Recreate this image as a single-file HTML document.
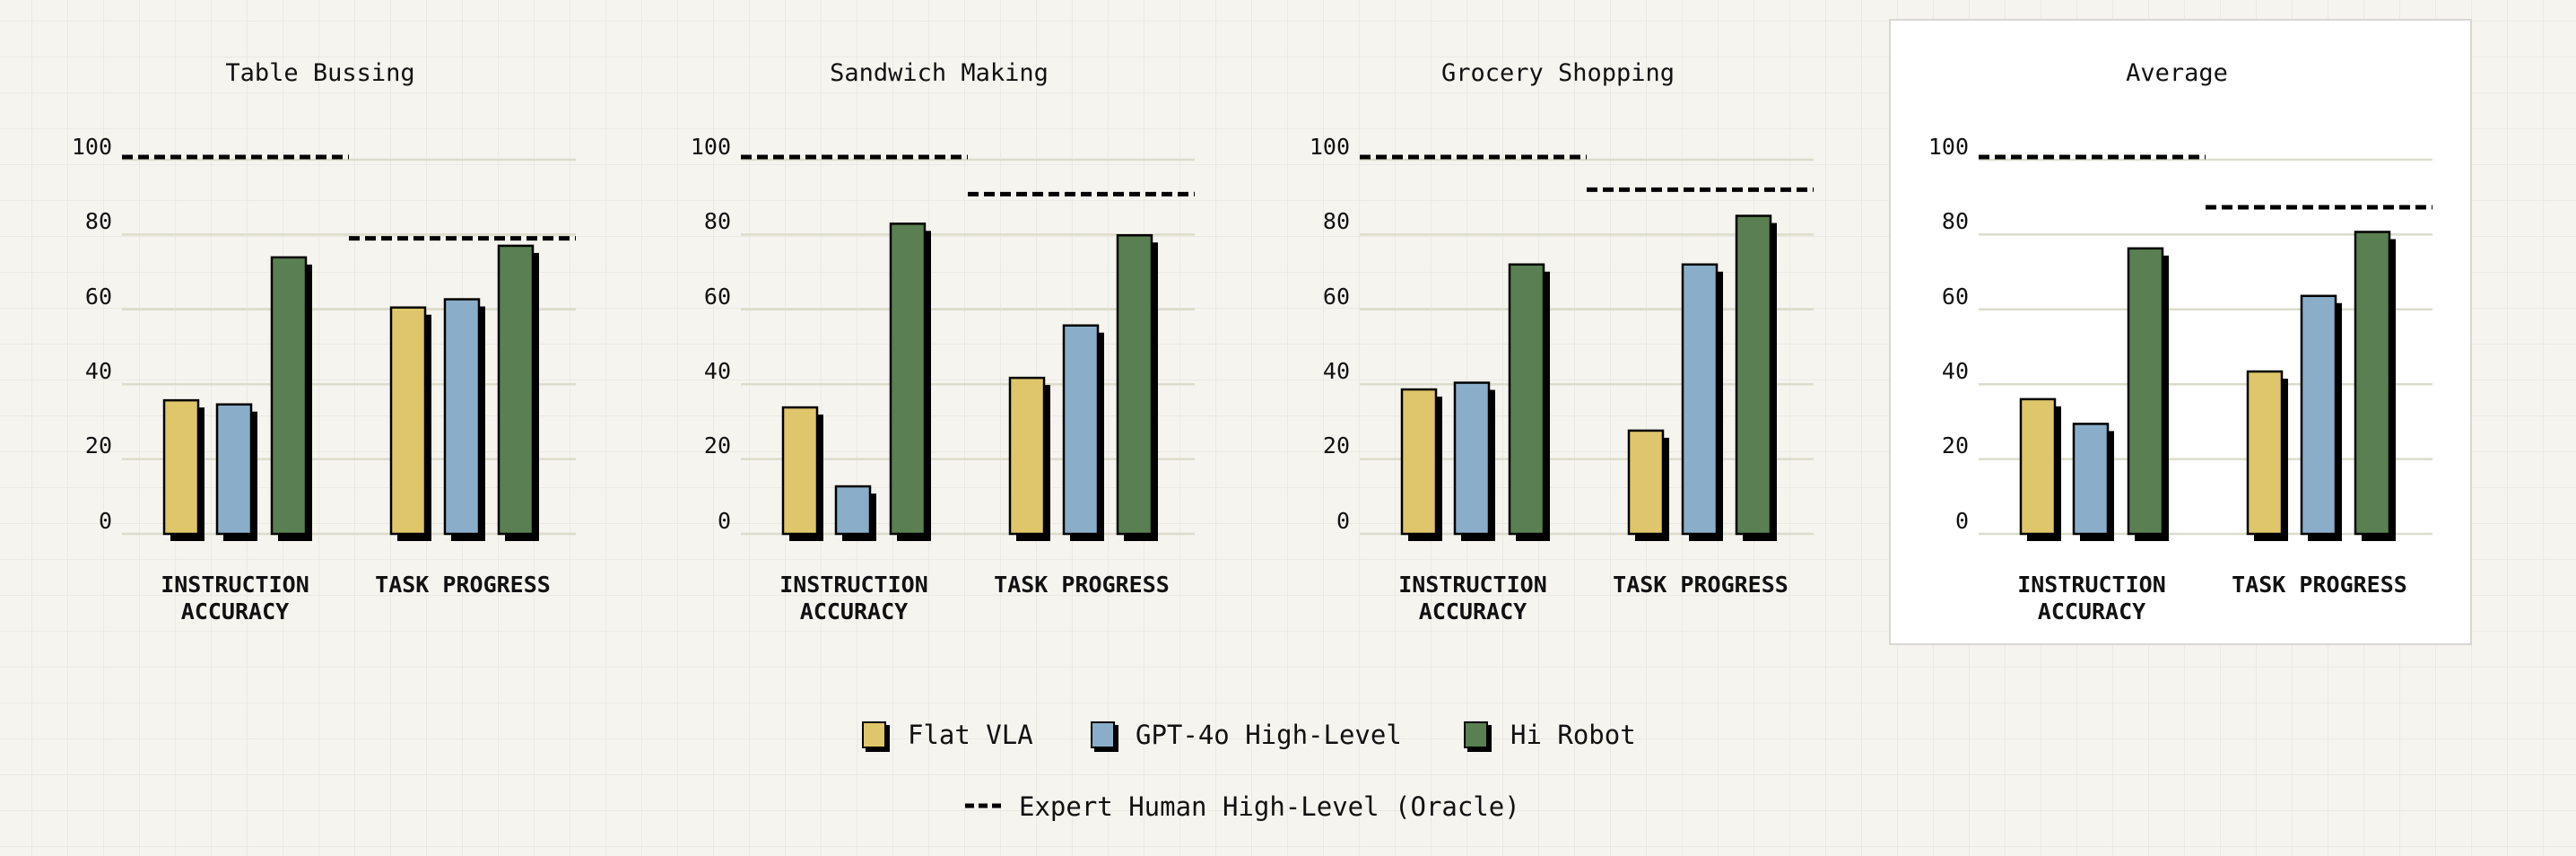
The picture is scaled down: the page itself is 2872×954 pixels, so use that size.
<!DOCTYPE html>
<html><head><meta charset="utf-8"><style>
html,body{margin:0;padding:0;background:#f5f4ef;}
svg{display:block;font-family:"DejaVu Sans Mono","Liberation Mono",monospace;}
</style></head><body>
<svg id="s" width="2872" height="954" viewBox="0 0 2872 954" xmlns="http://www.w3.org/2000/svg">
<defs>
<pattern id="g" x="35" y="23" width="40" height="40" patternUnits="userSpaceOnUse">
<path d="M0 0H40M0 0V40" stroke="#e6e5dd" stroke-width="1.5" fill="none"/>
</pattern>
</defs>
<rect width="2872" height="954" fill="#f5f4ef"/>
<rect width="2872" height="954" fill="url(#g)"/>
<rect x="2107" y="22" width="648" height="696" fill="#ffffff" stroke="#d8d8d2" stroke-width="2"/>
<g id="plots"></g>
<g font-size="27" text-anchor="middle" fill="#111">
<text x="357" y="90">Table Bussing</text>
<text x="1047" y="90">Sandwich Making</text>
<text x="1737" y="90">Grocery Shopping</text>
<text x="2427" y="90">Average</text>
</g>
<g font-size="25" text-anchor="end" fill="#111">
<text x="125" y="172">100</text><text x="125" y="255">80</text><text x="125" y="339">60</text><text x="125" y="422">40</text><text x="125" y="505">20</text><text x="125" y="589">0</text>
<text x="815" y="172">100</text><text x="815" y="255">80</text><text x="815" y="339">60</text><text x="815" y="422">40</text><text x="815" y="505">20</text><text x="815" y="589">0</text>
<text x="1505" y="172">100</text><text x="1505" y="255">80</text><text x="1505" y="339">60</text><text x="1505" y="422">40</text><text x="1505" y="505">20</text><text x="1505" y="589">0</text>
<text x="2195" y="172">100</text><text x="2195" y="255">80</text><text x="2195" y="339">60</text><text x="2195" y="422">40</text><text x="2195" y="505">20</text><text x="2195" y="589">0</text>
</g>
<g font-size="25" font-weight="bold" text-anchor="middle" fill="#111">
<text x="262" y="660">INSTRUCTION</text><text x="262" y="690">ACCURACY</text><text x="516" y="660">TASK PROGRESS</text>
<text x="952" y="660">INSTRUCTION</text><text x="952" y="690">ACCURACY</text><text x="1206" y="660">TASK PROGRESS</text>
<text x="1642" y="660">INSTRUCTION</text><text x="1642" y="690">ACCURACY</text><text x="1896" y="660">TASK PROGRESS</text>
<text x="2332" y="660">INSTRUCTION</text><text x="2332" y="690">ACCURACY</text><text x="2586" y="660">TASK PROGRESS</text>
</g>
<g stroke="#000" stroke-width="2">
<rect x="966" y="809" width="25" height="28" fill="#000"/><rect x="962" y="805" width="25" height="28" fill="#dfc66b"/>
<rect x="1221" y="809" width="25" height="28" fill="#000"/><rect x="1217" y="805" width="25" height="28" fill="#8aaec9"/>
<rect x="1637" y="809" width="25" height="28" fill="#000"/><rect x="1633" y="805" width="25" height="28" fill="#5a7f52"/>
</g>
<line x1="1076" y1="898" x2="1117" y2="898" stroke="#000" stroke-width="5" stroke-dasharray="10,5"/>
<g font-size="29" fill="#111">
<text x="1012" y="829">Flat VLA</text>
<text x="1266" y="829">GPT-4o High-Level</text>
<text x="1684" y="829">Hi Robot</text>
<text x="1136" y="909">Expert Human High-Level (Oracle)</text>
</g>
</svg>
<script>
var data=[
 {ia:[35.7,34.6,73.9],tp:[60.5,62.7,77],o:[100,79]},
 {ia:[33.8,12.7,82.9],tp:[41.7,55.7,79.8],o:[100,90.8]},
 {ia:[38.6,40.4,72],tp:[27.6,72,85],o:[100,92]},
 {ia:[36,29.4,76.3],tp:[43.4,63.6,80.7],o:[100,87.3]}
];
var cols=["#dfc66b","#8aaec9","#5a7f52"];
var y0=595,k=4.17,h='';
data.forEach(function(d,i){
 var dx=690*i;
 for(var v=0;v<=100;v+=20){var y=y0-v*k;h+='<line x1="'+(136+dx)+'" x2="'+(642+dx)+'" y1="'+y+'" y2="'+y+'" stroke="#dcdccc" stroke-width="2.5"/>';}
 [[d.ia,[183,242,303]],[d.tp,[436,496,556]]].forEach(function(g){
  g[0].forEach(function(v,j){
   var x=g[1][j]+dx,y=y0-v*k,hh=v*k;
   h+='<rect x="'+(x+7)+'" y="'+(y+8)+'" width="38" height="'+hh+'" fill="#000"/>';
   h+='<rect x="'+x+'" y="'+y+'" width="38" height="'+hh+'" fill="'+cols[j]+'" stroke="#000" stroke-width="2.5"/>';
  });
 });
 var ya=y0-d.o[0]*k-3,yb=y0-d.o[1]*k;
 h+='<line x1="'+(136+dx)+'" x2="'+(389+dx)+'" y1="'+ya+'" y2="'+ya+'" stroke="#000" stroke-width="5" stroke-dasharray="12,6"/>';
 h+='<line x1="'+(389+dx)+'" x2="'+(642+dx)+'" y1="'+yb+'" y2="'+yb+'" stroke="#000" stroke-width="5" stroke-dasharray="12,6"/>';
});
document.getElementById('plots').innerHTML=h;
</script>
</body></html>
